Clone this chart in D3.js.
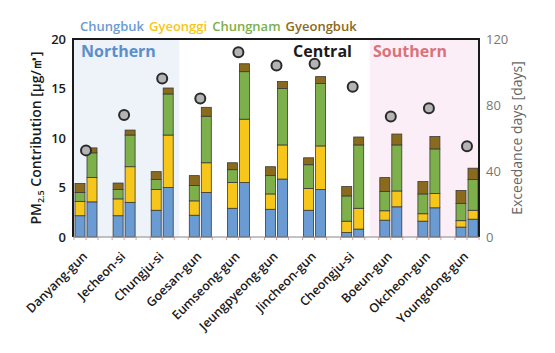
<!DOCTYPE html>
<html>
<head>
<meta charset="utf-8">
<script src="https://cdn.jsdelivr.net/npm/d3@7/dist/d3.min.js"></script>
<style>
  html, body { margin: 0; padding: 0; background: #fff; }
  svg { font-family: "Open Sans", "Noto Sans", sans-serif; }
</style>
</head>
<body>
<div id="chart"></div>
<script>
// ── Data ───────────────────────────────────────────────────
var regions = ["Danyang-gun", "Jecheon-si", "Chungju-si", "Goesan-gun", "Eumseong-gun",
  "Jeungpyeong-gun", "Jincheon-gun", "Cheongju-si", "Boeun-gun", "Okcheon-gun", "Youngdong-gun"];
var sources = ["Chungbuk", "Gyeonggi", "Chungnam", "Gyeongbuk"];

// first (left) bar of each pair, contribution per source [μg/m³]
var barA = {
  Chungbuk:  [2.15, 2.15, 2.7, 2.2, 2.9, 2.8, 2.7, 0.45, 1.7, 1.6, 1.0],
  Gyeonggi:  [1.45, 1.7, 2.1, 1.45, 2.6, 1.55, 2.2, 1.15, 0.95, 0.75, 0.65],
  Chungnam:  [0.9, 0.95, 1.0, 1.55, 1.3, 1.85, 2.4, 2.55, 1.95, 2.0, 1.75],
  Gyeongbuk: [0.9, 0.65, 0.8, 1.0, 0.7, 0.9, 0.7, 0.95, 1.4, 1.25, 1.3]
};
// second (right) bar of each pair
var barB = {
  Chungbuk:  [3.55, 3.5, 5.0, 4.5, 5.5, 5.85, 4.8, 0.8, 3.05, 2.95, 1.8],
  Gyeonggi:  [2.45, 3.6, 5.3, 3.0, 6.4, 3.45, 4.4, 2.1, 1.6, 1.45, 0.9],
  Chungnam:  [2.5, 3.2, 4.15, 4.7, 4.8, 5.7, 6.3, 6.4, 4.65, 4.5, 3.1],
  Gyeongbuk: [0.5, 0.5, 0.6, 0.9, 0.8, 0.7, 0.7, 0.8, 1.1, 1.25, 1.15]
};
var exceedDays = [52.5, 74, 96, 84, 112, 104, 105, 91, 73, 78, 55];

var zones = [
  { name: "Northern", from: 0, to: 2, fill: "#eef2f9", color: "#5b8fcb" },
  { name: "Central",  from: 3, to: 7, fill: "#ffffff", color: "#1a1a1a" },
  { name: "Southern", from: 8, to: 10, fill: "#fbeef6", color: "#d9727c" }
];

var leftTicks = [0, 5, 10, 15, 20];
var rightTicks = [0, 40, 80, 120];

var colors = {
  Chungbuk: "#6a9bd2",
  Gyeonggi: "#f6c61a",
  Chungnam: "#7daf4a",
  Gyeongbuk: "#8a6a1c"
};

// ── Layout ─────────────────────────────────────────────────
var W = 555, H = 353;
var plot = { left: 73, right: 479, top: 39, bottom: 237 };

var svg = d3.select("#chart").append("svg")
  .attr("width", W).attr("height", H);

var x = d3.scalePoint().domain(regions).range([86, 467]);
var step = x.step();
var y = d3.scaleLinear().domain([0, 20]).range([plot.bottom, plot.top]);
var yR = d3.scaleLinear().domain([0, 120]).range([plot.bottom, plot.top]);
var barW = 10, gap = 2;

// zone backgrounds
zones.forEach(function (z) {
  var x0 = z.from === 0 ? plot.left : x(regions[z.from]) - step / 2 - 2;
  var x1 = z.to === regions.length - 1 ? plot.right : x(regions[z.to]) + step / 2 + 2;
  svg.append("rect")
    .attr("x", x0).attr("y", plot.top)
    .attr("width", x1 - x0).attr("height", plot.bottom - plot.top)
    .attr("fill", z.fill);
});

// zone labels
svg.append("text").attr("x", 81).attr("y", 57).attr("font-size", 16).attr("font-weight", 700)
  .attr("fill", zones[0].color).text(zones[0].name);
svg.append("text").attr("x", 293).attr("y", 57).attr("font-size", 16).attr("font-weight", 700)
  .attr("fill", zones[1].color).text(zones[1].name);
svg.append("text").attr("x", 373).attr("y", 57).attr("font-size", 16).attr("font-weight", 700)
  .attr("fill", zones[2].color).text(zones[2].name);

// stacked bars
function drawBars(data, offset) {
  var rows = regions.map(function (r, i) {
    var o = { region: r };
    sources.forEach(function (s) { o[s] = data[s][i]; });
    return o;
  });
  var stacked = d3.stack().keys(sources)(rows);
  var g = svg.append("g");
  stacked.forEach(function (layer) {
    g.selectAll(null).data(layer).enter().append("rect")
      .attr("x", function (d) { return x(d.data.region) + offset; })
      .attr("y", function (d) { return y(d[1]); })
      .attr("width", barW)
      .attr("height", function (d) { return y(d[0]) - y(d[1]); })
      .attr("fill", colors[layer.key])
      .attr("stroke", "#3a3a3a")
      .attr("stroke-width", 0.8);
  });
}
drawBars(barA, -gap / 2 - barW);
drawBars(barB, gap / 2);

// exceedance dots
svg.append("g").selectAll("circle").data(exceedDays).enter().append("circle")
  .attr("cx", function (d, i) { return x(regions[i]); })
  .attr("cy", function (d) { return yR(d); })
  .attr("r", 5)
  .attr("fill", "#b4b4b4")
  .attr("stroke", "#2a2a2a")
  .attr("stroke-width", 2);

// small ticks under the x axis
var tickPos = [];
regions.forEach(function (r) {
  tickPos.push(x(r) - gap / 2 - barW - 1, x(r), x(r) + gap / 2 + barW + 1);
});
svg.append("g").selectAll("line").data(tickPos).enter().append("line")
  .attr("x1", function (d) { return d; }).attr("x2", function (d) { return d; })
  .attr("y1", plot.bottom).attr("y2", plot.bottom + 3)
  .attr("stroke", "#d2a0a0").attr("stroke-width", 1);

// frame
svg.append("path")
  .attr("d", "M" + plot.left + "," + plot.bottom + "V" + plot.top + "H" + plot.right + "V" + plot.bottom)
  .attr("fill", "none").attr("stroke", "#1a1a1a").attr("stroke-width", 2);
svg.append("line")
  .attr("x1", plot.left).attr("x2", plot.right)
  .attr("y1", plot.bottom).attr("y2", plot.bottom)
  .attr("stroke", "#888").attr("stroke-width", 1.2);

// left axis
var yAxis = svg.append("g")
  .attr("transform", "translate(" + plot.left + ",0)")
  .call(d3.axisLeft(y).tickValues(leftTicks).tickSize(0).tickPadding(7));
yAxis.select(".domain").remove();
yAxis.selectAll("text").attr("font-size", 13).attr("font-weight", 600)
  .attr("fill", "#1a1a1a").attr("font-family", "Open Sans, sans-serif");

// right axis
var yAxisR = svg.append("g")
  .attr("transform", "translate(" + plot.right + ",0)")
  .call(d3.axisRight(yR).tickValues(rightTicks).tickSize(0).tickPadding(7));
yAxisR.select(".domain").remove();
yAxisR.selectAll("text").attr("font-size", 13)
  .attr("fill", "#777").attr("font-family", "Open Sans, sans-serif");

// x labels
svg.append("g").selectAll("text").data(regions).enter().append("text")
  .attr("transform", function (d) { return "translate(" + (x(d) - 4) + "," + (plot.bottom + 14) + ") rotate(-45)"; })
  .attr("text-anchor", "end")
  .attr("dy", "0.7em")
  .attr("font-size", 12.5)
  .attr("font-weight", 600)
  .attr("fill", "#1a1a1a")
  .text(function (d) { return d; });

// axis titles
var lt = svg.append("text")
  .attr("transform", "translate(41," + ((plot.top + plot.bottom) / 2) + ") rotate(-90)")
  .attr("text-anchor", "middle")
  .attr("font-size", 14).attr("font-weight", 600).attr("fill", "#1a1a1a");
lt.append("tspan").text("PM");
lt.append("tspan").attr("font-size", 9).attr("dy", 3).text("2.5");
lt.append("tspan").attr("dy", -3).text(" Contribution [μg/㎥]");

svg.append("text")
  .attr("transform", "translate(522," + ((plot.top + plot.bottom) / 2) + ") rotate(-90)")
  .attr("text-anchor", "middle")
  .attr("font-size", 14).attr("fill", "#666")
  .text("Exceedance days [days]");

// legend
var lx = 80;
var legend = svg.append("g");
sources.forEach(function (s) {
  var t = legend.append("text").attr("x", lx).attr("y", 31)
    .attr("font-size", 13).attr("font-weight", 600)
    .attr("fill", colors[s]).text(s);
  lx += t.node().getComputedTextLength() + 5;
});
</script>
</body>
</html>
